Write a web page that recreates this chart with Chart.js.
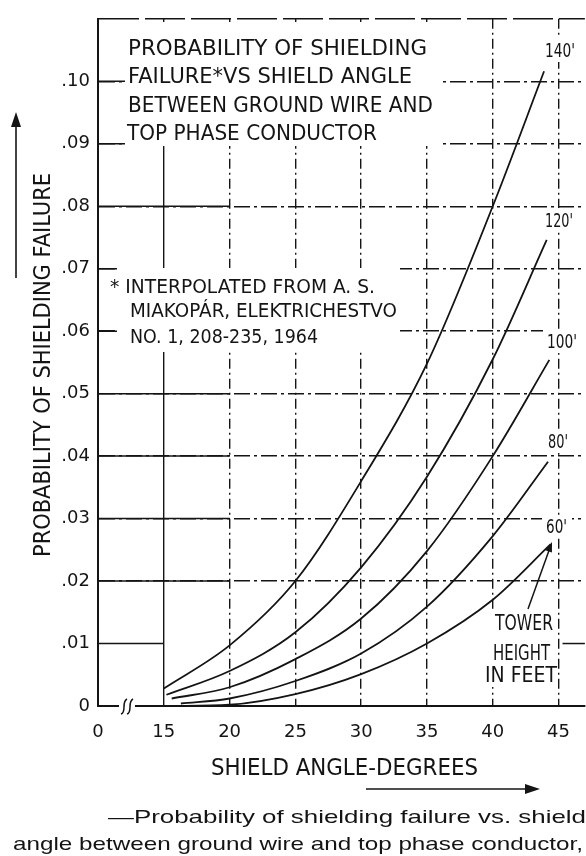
<!DOCTYPE html>
<html>
<head>
<meta charset="utf-8">
<script src="https://cdn.jsdelivr.net/npm/chart.js@4.4.1/dist/chart.umd.min.js"></script>
<style>
  body { margin: 0; background: #fff; }
  #wrap { width: 586px; height: 856px; }
</style>
</head>
<body>
<div id="wrap"><canvas id="grafico"></canvas></div>
<script>
// eixo x quebrado: o valor 10 da escala leva o rotulo "0"
const xTickValues = [10, 15, 20, 25, 30, 35, 40, 45];
const xTickLabels = ['0', '15', '20', '25', '30', '35', '40', '45'];
const yTickValues = [0, 0.01, 0.02, 0.03, 0.04, 0.05, 0.06, 0.07, 0.08, 0.09, 0.10, 0.11];
const yTickLabels = ['0', '.01', '.02', '.03', '.04', '.05', '.06', '.07', '.08', '.09', '.10', ''];

const towerHeights = ["140'", "120'", "100'", "80'", "60'"];

const angles140 = [15, 20, 25, 30, 35, 40, 43.9];
const prob140 = [0.0028, 0.0097, 0.0200, 0.0360, 0.0548, 0.0800, 0.1016];
const angles120 = [15.2, 20, 25, 30, 35, 40, 44.1];
const prob120 = [0.0018, 0.0056, 0.0118, 0.0222, 0.0367, 0.0555, 0.0746];
const angles100 = [15.6, 20, 25, 30, 35, 40, 44.3];
const prob100 = [0.0012, 0.0030, 0.0075, 0.0140, 0.0248, 0.0400, 0.0554];
const angles80 = [16.3, 20, 25, 30, 35, 40, 44.2];
const prob80 = [0.0004, 0.0012, 0.0040, 0.0084, 0.0159, 0.0272, 0.0391];
const angles60 = [15.5, 20, 25, 30, 35, 40, 44.4];
const prob60 = [0.0000, 0.0002, 0.0019, 0.0051, 0.0100, 0.0170, 0.0259];

const ink = '#141414';
const letra = "'DejaVu Sans', 'Liberation Sans', sans-serif";
const letraLegenda = "'Liberation Sans', Arial, sans-serif";
const tracoGrade = [10, 4, 2, 4];

function serie(angulos, valores) {
    return angulos.map((a, i) => ({ x: a, y: valores[i] }));
}

function textoAjustado(ctx, texto, x, y, largura) {
    const w = ctx.measureText(texto).width;
    ctx.save();
    ctx.translate(x, y);
    ctx.scale(largura / w, 1);
    ctx.fillText(texto, 0, 0);
    ctx.restore();
}

function seta(ctx, x1, y1, x2, y2, tam, meia) {
    const ang = Math.atan2(y2 - y1, x2 - x1);
    ctx.beginPath();
    ctx.moveTo(x1, y1);
    ctx.lineTo(x2 - Math.cos(ang) * tam * 0.6, y2 - Math.sin(ang) * tam * 0.6);
    ctx.stroke();
    ctx.save();
    ctx.translate(x2, y2);
    ctx.rotate(ang);
    ctx.beginPath();
    ctx.moveTo(0, 0);
    ctx.lineTo(-tam, -meia);
    ctx.lineTo(-tam, meia);
    ctx.closePath();
    ctx.fill();
    ctx.restore();
}

const extras = {
    id: 'extras',
    beforeDatasetsDraw(chart) {
        const { ctx, scales: { x, y } } = chart;
        ctx.save();
        ctx.strokeStyle = ink;
        ctx.lineWidth = 1.5;
        // trecho continuo das linhas horizontais junto ao eixo
        yTickValues.slice(1, -1).forEach(v => {
            const py = y.getPixelForValue(v);
            const fim = v === 0.01 ? 15 : 20;
            ctx.beginPath();
            ctx.moveTo(x.getPixelForValue(10), py);
            ctx.lineTo(x.getPixelForValue(fim), py);
            ctx.stroke();
        });
        const p01 = y.getPixelForValue(0.01);
        ctx.beginPath();
        ctx.moveTo(x.getPixelForValue(45.3), p01);
        ctx.lineTo(x.getPixelForValue(47), p01);
        ctx.stroke();

        // fundos brancos atras dos textos
        ctx.fillStyle = '#fff';
        ctx.fillRect(125, 22, 315, 124);
        ctx.fillRect(117, 268, 283, 84);
        ctx.fillRect(541, 38, 40, 24);
        ctx.fillRect(541, 208, 38, 24);
        ctx.fillRect(543, 329, 38, 24);
        ctx.fillRect(544, 430, 30, 23);
        ctx.fillRect(542, 517, 30, 21);
        ctx.fillRect(483, 609, 74, 78);

        // quebra do eixo x
        ctx.fillRect(119, 702, 16, 9);
        ctx.lineWidth = 1.5;
        [124, 130].forEach(bx => {
            ctx.beginPath();
            ctx.moveTo(bx - 3, 714);
            ctx.bezierCurveTo(bx + 3, 712, bx - 3, 702, bx + 3, 699);
            ctx.stroke();
        });
        ctx.restore();
    },
    afterDatasetsDraw(chart) {
        const { ctx } = chart;
        ctx.save();
        ctx.fillStyle = ink;
        ctx.strokeStyle = ink;
        ctx.textAlign = 'left';
        ctx.textBaseline = 'alphabetic';

        ctx.font = '21.5px ' + letra;
        textoAjustado(ctx, 'PROBABILITY OF SHIELDING', 128, 55, 299);
        textoAjustado(ctx, 'FAILURE*VS SHIELD ANGLE', 128, 83, 284);
        textoAjustado(ctx, 'BETWEEN GROUND WIRE AND', 128, 111.5, 305);
        textoAjustado(ctx, 'TOP PHASE CONDUCTOR', 127, 140, 250);

        ctx.font = '19px ' + letra;
        textoAjustado(ctx, '* INTERPOLATED FROM A. S.', 110, 293, 265);
        textoAjustado(ctx, 'MIAKOPÁR, ELEKTRICHESTVO', 130, 317, 267);
        textoAjustado(ctx, 'NO. 1, 208-235, 1964', 130, 343, 188);

        // rotulos das curvas
        textoAjustado(ctx, towerHeights[0], 545, 57, 30);
        textoAjustado(ctx, towerHeights[1], 545, 227, 28);
        textoAjustado(ctx, towerHeights[2], 547, 348, 30);
        textoAjustado(ctx, towerHeights[3], 548, 448, 20);
        textoAjustado(ctx, towerHeights[4], 546, 533, 21);

        ctx.font = '22px ' + letra;
        textoAjustado(ctx, 'TOWER', 495, 630, 58);
        textoAjustado(ctx, 'HEIGHT', 493, 660, 57);
        textoAjustado(ctx, 'IN FEET', 485, 682, 72);

        ctx.lineWidth = 1.5;
        seta(ctx, 528, 609, 552, 542, 10, 3.5);

        // titulo do eixo x e seta
        ctx.font = '23px ' + letra;
        textoAjustado(ctx, 'SHIELD ANGLE-DEGREES', 211, 775, 267);
        ctx.lineWidth = 1.6;
        seta(ctx, 366, 789, 540, 789, 15, 5);

        // titulo do eixo y e seta
        ctx.save();
        ctx.translate(50, 557);
        ctx.rotate(-Math.PI / 2);
        textoAjustado(ctx, 'PROBABILITY OF SHIELDING FAILURE', 0, 0, 384);
        ctx.restore();
        seta(ctx, 16, 278, 16, 112, 15, 5);

        // legenda da figura
        ctx.font = '19px ' + letraLegenda;
        textoAjustado(ctx, '\u2014Probability of shielding failure vs. shield', 108, 823, 478);
        textoAjustado(ctx, 'angle between ground wire and top phase conductor,', 13, 850, 570);
        ctx.restore();
    }
};

const ctx = document.getElementById('grafico').getContext('2d');
new Chart(ctx, {
    type: 'line',
    data: {
        datasets: [
            { label: towerHeights[0], data: serie(angles140, prob140) },
            { label: towerHeights[1], data: serie(angles120, prob120) },
            { label: towerHeights[2], data: serie(angles100, prob100) },
            { label: towerHeights[3], data: serie(angles80, prob80) },
            { label: towerHeights[4], data: serie(angles60, prob60) }
        ].map(d => Object.assign(d, {
            borderColor: ink,
            borderWidth: 1.8,
            pointRadius: 0,
            fill: false,
            cubicInterpolationMode: 'monotone'
        }))
    },
    options: {
        responsive: true,
        maintainAspectRatio: false,
        animation: false,
        devicePixelRatio: 1,
        layout: { padding: { top: 7, left: 0, right: 0, bottom: 0 } },
        plugins: {
            legend: { display: false },
            tooltip: { enabled: false }
        },
        scales: {
            x: {
                type: 'linear',
                min: 10,
                max: 47,
                afterBuildTicks: s => { s.ticks = xTickValues.map(v => ({ value: v })); },
                afterFit: s => { s.height = 150; },
                ticks: {
                    autoSkip: false,
                    maxRotation: 0,
                    padding: 16,
                    color: ink,
                    font: { family: letra, size: 18 },
                    callback: v => xTickLabels[xTickValues.indexOf(v)]
                },
                grid: {
                    drawTicks: false,
                    lineWidth: 1.4,
                    color: c => (c.tick && c.tick.value === 10 ? 'rgba(0,0,0,0)' : ink)
                },
                border: {
                    color: ink,
                    width: 2,
                    dash: c => (c.tick && c.tick.value === 15 ? [] : tracoGrade)
                }
            },
            y: {
                type: 'linear',
                min: 0,
                max: 0.11,
                afterBuildTicks: s => { s.ticks = yTickValues.map(v => ({ value: v })); },
                afterFit: s => { s.width = 98; },
                ticks: {
                    padding: 8,
                    color: ink,
                    font: { family: letra, size: 18 },
                    callback: v => yTickLabels[yTickValues.indexOf(v)]
                },
                grid: {
                    drawTicks: false,
                    lineWidth: 1.4,
                    color: c => (c.tick && (c.tick.value === 0 || c.tick.value === 0.01) ? 'rgba(0,0,0,0)' : ink)
                },
                border: {
                    color: ink,
                    width: 2,
                    dash: c => (c.tick && c.tick.value === 0.11 ? [40, 6] : [16, 4, 3, 4])
                }
            }
        }
    },
    plugins: [extras]
});
</script>
</body>
</html>
